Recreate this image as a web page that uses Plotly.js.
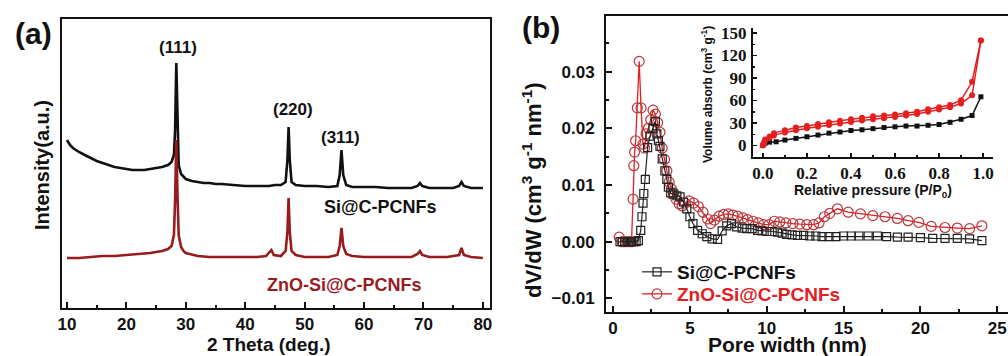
<!DOCTYPE html>
<html><head><meta charset="utf-8">
<script src="https://cdn.plot.ly/plotly-3.0.1.min.js"></script>
<style>html,body{margin:0;padding:0;background:#fff}#c{width:1008px;height:356px}</style>
</head><body><div id="c"></div>
<script>
// ---- Panel (a): XRD (intensity in arbitrary units) ----
const xrdSiX = [10,10.5,11,12,13,14,15,16,17,18,19,20,21,22,23,24,25,26,27,27.6,28.0,28.2,28.4,28.6,28.8,29.2,29.6,30,31,32,33,34,35,36,38,40,42,44,45,46,46.8,47.1,47.3,47.5,47.8,48.5,50,52,54,55.5,55.9,56.2,56.5,57,58,60,62,64,66,68,69,69.4,69.8,71,73,75,76,76.4,76.8,78,80];
const xrdSiY = [168,163,160,156,153,150,147,145,143,141,140,139,138,138,138,139,140,141,143,146,153,178,245,183,143,134,131,129,127,126,125,125,124,124,123,122,122,122,123,123,126,148,181,148,126,123,122,122,121,122,133,158,133,123,121,121,121,120,120,120,122,125,122,120,120,120,122,126,122,120,120];
const xrdZnX = [10,12,14,16,18,20,22,24,26,27,27.6,28.0,28.2,28.4,28.6,28.8,29.2,29.6,30,32,34,36,38,40,42,43.5,44.4,44.8,46,46.8,47.1,47.3,47.5,47.8,48.5,50,52,54,55.5,55.9,56.2,56.5,57,58,60,64,68,69,69.4,69.8,71,74,76,76.4,76.8,78,80];
const xrdZnY = [50,50,51,52,52,53,54,55,57,59,62,73,108,168,113,73,61,57,55,52,51,51,51,51,51,52,58,53,52,57,76,110,76,57,53,51,51,51,53,62,80,62,54,52,51,51,51,54,57,53,51,51,53,60,53,51,50];
const xrdTicks = [10,20,30,40,50,60,70,80];

// ---- Panel (b): pore size distribution ----
const poreSiX = [0.45,0.6,0.75,0.9,1.05,1.2,1.35,1.5,1.65,1.8,1.88,1.95,2.0,2.1,2.25,2.4,2.6,2.75,2.85,2.95,3.05,3.2,3.37,3.5,3.6,3.75,3.9,4.15,4.36,4.57,4.8,5.0,5.2,5.5,5.8,6.1,6.45,6.8,7.1,7.4,7.7,8.05,8.4,8.7,9.05,9.4,9.7,10.0,10.35,10.7,11.0,11.3,11.65,12.0,12.4,12.8,13.2,13.6,14.05,14.5,15.0,15.5,16.0,16.6,17.2,17.8,18.5,19.2,20.0,20.8,21.6,22.4,23.2,24.0];
const poreSiY = [0,0,0,0,0,0,0,0,0.0002,0.002,0.0044,0.0068,0.0085,0.011,0.0166,0.0186,0.020,0.0212,0.019,0.0178,0.0168,0.0146,0.0125,0.011,0.0096,0.0086,0.0084,0.0081,0.0079,0.007,0.0058,0.0044,0.0032,0.002,0.0014,0.0009,0.0005,0.0004,0.0019,0.0028,0.0032,0.0026,0.0024,0.0023,0.0023,0.002,0.0019,0.0018,0.0018,0.0017,0.0015,0.0013,0.0012,0.0011,0.0011,0.001,0.001,0.0009,0.0009,0.0009,0.001,0.001,0.001,0.001,0.001,0.0009,0.0008,0.0008,0.0007,0.0006,0.0006,0.0006,0.0005,0.0002];
const poreZnX = [0.4,0.6,0.8,1.0,1.2,1.3,1.35,1.4,1.47,1.58,1.7,1.82,1.95,2.05,2.15,2.3,2.45,2.6,2.75,2.9,3.05,3.2,3.35,3.5,3.65,3.8,3.95,4.1,4.3,4.5,4.7,4.95,5.25,5.55,5.85,6.15,6.35,6.6,6.9,7.2,7.5,7.8,8.1,8.45,8.75,9.1,9.45,9.8,10.15,10.5,10.85,11.25,11.7,12.15,12.6,13.05,13.4,13.75,14.1,14.6,15.3,16.1,16.9,17.7,18.5,19.2,19.9,20.7,21.6,22.4,23.2,24.0];
const poreZnY = [0.0008,0,0,0,0,0.0075,0.0134,0.0158,0.0178,0.0236,0.0318,0.0236,0.0172,0.0165,0.019,0.020,0.0215,0.0232,0.0225,0.021,0.0193,0.0165,0.0145,0.0125,0.0105,0.0093,0.0086,0.0075,0.0067,0.0063,0.0068,0.0072,0.0068,0.0062,0.0052,0.004,0.0032,0.0038,0.0045,0.0048,0.0049,0.0047,0.0045,0.0042,0.0039,0.0036,0.0033,0.003,0.003,0.0036,0.0035,0.0033,0.0032,0.0031,0.003,0.003,0.0033,0.0044,0.005,0.0058,0.0052,0.0049,0.0046,0.0044,0.0041,0.0037,0.0034,0.0027,0.0025,0.0024,0.0023,0.0028];

// ---- Inset: N2 isotherms ----
const isoZnDesP = [0.0,0.005,0.01,0.03,0.05,0.1,0.15,0.2,0.25,0.3,0.35,0.4,0.45,0.5,0.55,0.6,0.65,0.7,0.75,0.8,0.85,0.9,0.95,0.99];
const isoZnDesV = [1,4,8,12,16.5,20.5,24,26,28.6,31,33,35,37,39,40,41.5,43,45,48.5,51,54,60.5,85,140];
const isoZnAdsP = [0.0,0.005,0.01,0.03,0.05,0.1,0.15,0.2,0.25,0.3,0.35,0.4,0.45,0.5,0.55,0.6,0.65,0.7,0.75,0.8,0.85,0.9,0.95,0.99];
const isoZnAdsV = [0,3,7,10,13.5,17.5,20.5,23,25,27.5,29.5,31.5,33.5,35,36.5,38,40,42,45,48,51,56,67,140];
const isoSiP = [0.0,0.01,0.03,0.06,0.1,0.15,0.2,0.25,0.3,0.35,0.4,0.45,0.5,0.55,0.6,0.65,0.7,0.75,0.8,0.85,0.9,0.95,0.99];
const isoSiV = [0,3,4.5,5,7.3,9.5,11.7,14,16.5,18,20,21,22.5,24,25,26,26,27,28,31,35,40,65];

const W = 1008, H = 356;
const px = x => x / W, py = y => 1 - y / H;
const SANS = 'Liberation Sans, Arial, sans-serif';
const SERIF = 'Liberation Serif, Times New Roman, serif';
const RED = '#e3201f', REDM = '#b8383e', DARKRED = '#981b1e';

const traces = [
  {x: xrdSiX, y: xrdSiY, xaxis:'x', yaxis:'y', mode:'lines', line:{color:'#111', width:2.6}, showlegend:false},
  {x: xrdZnX, y: xrdZnY, xaxis:'x', yaxis:'y', mode:'lines', line:{color:DARKRED, width:2.6}, showlegend:false},
  {x: poreZnX, y: poreZnY, xaxis:'x2', yaxis:'y2', mode:'lines+markers', name:'<span style="color:#e3201f">ZnO-Si@C-PCNFs</span>', legend:'legend2',
   line:{color:RED, width:1.3}, marker:{symbol:'circle-open', size:10, color:REDM, line:{width:1.2, color:REDM}}},
  {x: poreSiX, y: poreSiY, xaxis:'x2', yaxis:'y2', mode:'lines+markers', name:'Si@C-PCNFs', legend:'legend',
   line:{color:'#222', width:1.2}, marker:{symbol:'square-open', size:8, color:'#222', line:{width:1.2, color:'#222'}}},
  {x: isoSiP, y: isoSiV, xaxis:'x3', yaxis:'y3', mode:'lines+markers', line:{color:'#111', width:1.5}, marker:{symbol:'square', size:5, color:'#111'}, showlegend:false},
  {x: isoZnAdsP, y: isoZnAdsV, xaxis:'x3', yaxis:'y3', mode:'lines+markers', line:{color:RED, width:1.5}, marker:{symbol:'circle', size:6, color:RED}, showlegend:false},
  {x: isoZnDesP, y: isoZnDesV, xaxis:'x3', yaxis:'y3', mode:'lines+markers', line:{color:RED, width:1.5}, marker:{symbol:'circle', size:6, color:RED}, showlegend:false}
];

const bf = sz => ({family:SANS, size:sz, color:'#111', weight:700});
const ann = (x, y, text, size, extra) => Object.assign({xref:'paper', yref:'paper', x:px(x), y:py(y), text:'<b>'+text+'</b>', showarrow:false,
  xanchor:'center', yanchor:'middle', font:{family:SANS, size:size, color:'#111'}}, extra||{});
const legFont = {family:SANS, size:19, color:'#111', weight:700};
const B = {tickprefix:'<b>', ticksuffix:'</b>'};

const layout = {
  width: W, height: H, margin:{l:0, r:0, t:0, b:0}, paper_bgcolor:'#fff', plot_bgcolor:'rgba(0,0,0,0)',
  showlegend: true,
  legend: {x: px(637), y: py(272), xanchor:'left', yanchor:'middle', bgcolor:'rgba(0,0,0,0)', font:legFont, itemwidth:30},
  legend2: {x: px(637), y: py(294), xanchor:'left', yanchor:'middle', bgcolor:'rgba(0,0,0,0)', font:legFont, itemwidth:30},
  xaxis: Object.assign({domain:[px(62), px(490)], range:[9.16, 81.2], anchor:'y', showline:true, linewidth:2, linecolor:'#111', mirror:true,
          ticks:'inside', ticklen:6, tickwidth:2, tickcolor:'#111', tickvals: xrdTicks, ticktext: xrdTicks.map(String), showgrid:false, zeroline:false,
          minor:{ticks:'inside', dtick:5, tick0:0, ticklen:3, tickwidth:2, tickcolor:'#111', showgrid:false},
          tickfont:bf(17), ticklabelstandoff:0}, B),
  yaxis: {domain:[py(308), py(19)], range:[0, 289], anchor:'x', showline:true, linewidth:2, linecolor:'#111', mirror:true,
          ticks:'', showticklabels:false, showgrid:false, zeroline:false},
  xaxis2: Object.assign({domain:[px(606), 1], range:[-0.46, 25.7], anchor:'y2', showline:true, linewidth:2, linecolor:'#111', mirror:true,
           ticks:'inside', ticklen:6, tickwidth:2, tickcolor:'#111', dtick:5, tick0:0, showgrid:false, zeroline:false,
           minor:{ticks:'inside', dtick:2.5, ticklen:3, tickwidth:2, tickcolor:'#111', showgrid:false},
           tickfont:bf(17), ticklabelstandoff:0}, B),
  yaxis2: Object.assign({domain:[py(312), py(16)], range:[-0.0124, 0.0398], anchor:'x2', showline:true, linewidth:2, linecolor:'#111', mirror:false,
           ticks:'inside', ticklen:6, tickwidth:2, tickcolor:'#111', dtick:0.01, tick0:0, tickformat:'.2f', showgrid:false, zeroline:false,
           minor:{ticks:'inside', dtick:0.005, ticklen:3, tickwidth:2, tickcolor:'#111', showgrid:false},
           tickfont:bf(17), ticklabelstandoff:6}, B),
  xaxis3: Object.assign({domain:[px(753), px(993)], range:[-0.045, 1.045], anchor:'y3', showline:true, linewidth:2, linecolor:'#111', mirror:false,
           ticks:'inside', ticklen:4, tickwidth:1.5, tickcolor:'#111', dtick:0.2, tick0:0, tickformat:'.1f', showgrid:false, zeroline:false,
           minor:{ticks:'inside', dtick:0.1, ticklen:2, tickwidth:1.5, tickcolor:'#111', showgrid:false},
           tickfont:{family:SERIF, size:17, color:'#111', weight:700}, ticklabelstandoff:0}, B),
  yaxis3: Object.assign({domain:[py(157), py(28)], range:[-15.3, 156.7], anchor:'x3', showline:true, linewidth:2, linecolor:'#111', mirror:false,
           ticks:'inside', ticklen:4, tickwidth:1.5, tickcolor:'#111', dtick:30, tick0:0, showgrid:false, zeroline:false,
           minor:{ticks:'inside', dtick:15, ticklen:2, tickwidth:1.5, tickcolor:'#111', showgrid:false},
           tickfont:{family:SERIF, size:17, color:'#111', weight:700}, ticklabelstandoff:1}, B),
  annotations: [
    ann(33, 33, '(a)', 30),
    ann(541, 28, '(b)', 30),
    ann(178, 47, '(111)', 17),
    ann(293, 110, '(220)', 17),
    ann(340, 138, '(311)', 17),
    ann(380, 207, 'Si@C-PCNFs', 18),
    ann(344, 285, 'ZnO-Si@C-PCNFs', 18, {font:{family:SANS, size:18, color:DARKRED}}),
    ann(42, 165, 'Intensity(a.u.)', 20, {textangle:-90}),
    ann(269, 344, '2 Theta (deg.)', 19),
    ann(532, 190, 'dV/dW (cm<sup>3</sup> g<sup>-1</sup> nm<sup>-1</sup>)', 22, {textangle:-90}),
    ann(787, 344, 'Pore width (nm)', 21),
    ann(873, 191, 'Relative pressure (P/P<sub>0</sub>)', 14),
    ann(707, 95, 'Volume absorb (cm<sup>3</sup> g<sup>-1</sup>)', 12, {textangle:-90})
  ]
};

Plotly.newPlot('c', traces, layout, {staticPlot:true, displayModeBar:false});
</script></body></html>
